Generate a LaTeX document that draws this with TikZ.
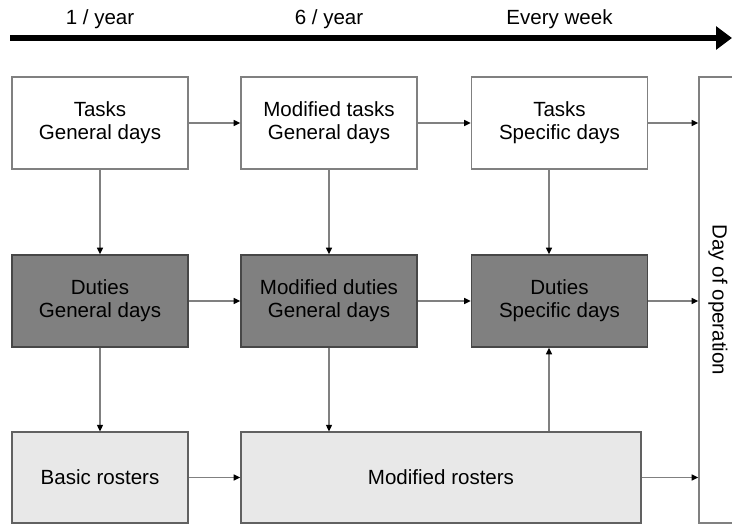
\documentclass[tikz,border=0pt]{standalone}
\usepackage{fontspec}
\setmainfont{Liberation Sans}
\usetikzlibrary{arrows.meta}
\begin{document}
\begin{tikzpicture}[
    x=0.75pt, y=-0.75pt,
    every node/.style={
      font=\fontsize{15.4}{17.3}\selectfont,
      align=center
    },
    task/.style={
      draw=black!50,
      line width=1.1pt,
      fill=white,
      minimum width=132pt,
      minimum height=69pt,
      inner sep=0pt
    },
    duty/.style={
      task,
      draw=black!72,
      fill=black!50
    },
    roster/.style={
      task,
      draw=black!62,
      fill=black!9,
      minimum height=68pt
    },
    link/.style={
      black!50,
      line width=1.1pt,
      -{Triangle[length=5pt,width=4.5pt,black]}
    }
  ]

    \useasboundingbox (0,0) rectangle (732,525);

    % Time line
    \coordinate (tl0) at (10,38);
    \coordinate (tl1) at (732,38);
    \draw[line width=5.2pt, -{Triangle[length=12pt,width=17pt]}] (tl0) -- (tl1);

    \node (f1) at (100,19) {1 / year};
    \node (f2) at (329,19) {6 / year};
    \node (f3) at (559.5,19) {Every week};

    % Tasks
    \node[task] (t1) at (100,123) {Tasks\\General days};
    \node[task] (t2) at (329,123) {Modified tasks\\General days};
    \node[task] (t3) at (559.5,123) {Tasks\\Specific days};

    % Duties
    \node[duty] (d1) at (100,301) {Duties\\General days};
    \node[duty] (d2) at (329,301) {Modified duties\\General days};
    \node[duty] (d3) at (559.5,301) {Duties\\Specific days};

    % Rosters
    \node[roster] (r1) at (100,477.5) {Basic rosters};
    \node[roster, minimum width=300pt] (r2) at (441,477.5) {Modified rosters};

    % Day of operation
    \node[task, minimum width=28.5pt, minimum height=334.5pt,
      label={[rotate=-90]center:Day of operation}] (op) at (718,300) {};

    % Horizontal links
    \draw[link] (t1) -- (t2);
    \draw[link] (t2) -- (t3);
    \draw[link] (t3.east) -- (t3.east -| op.west);
    \draw[link] (d1) -- (d2);
    \draw[link] (d2) -- (d3);
    \draw[link] (d3.east) -- (d3.east -| op.west);
    \draw[link] (r1) -- (r2);
    \draw[link] (r2.east) -- (r2.east -| op.west);

    % Vertical links
    \coordinate (c3) at (549,0);
    \draw[link] (t1) -- (d1);
    \draw[link] (d1) -- (r1);
    \draw[link] (t2) -- (d2);
    \draw[link] (d2.south) -- (d2.south |- r2.north);
    \draw[link] (t3.south -| c3) -- (d3.north -| c3);
    \draw[link] (r2.north -| c3) -- (d3.south -| c3);

  \end{tikzpicture}
\end{document}
